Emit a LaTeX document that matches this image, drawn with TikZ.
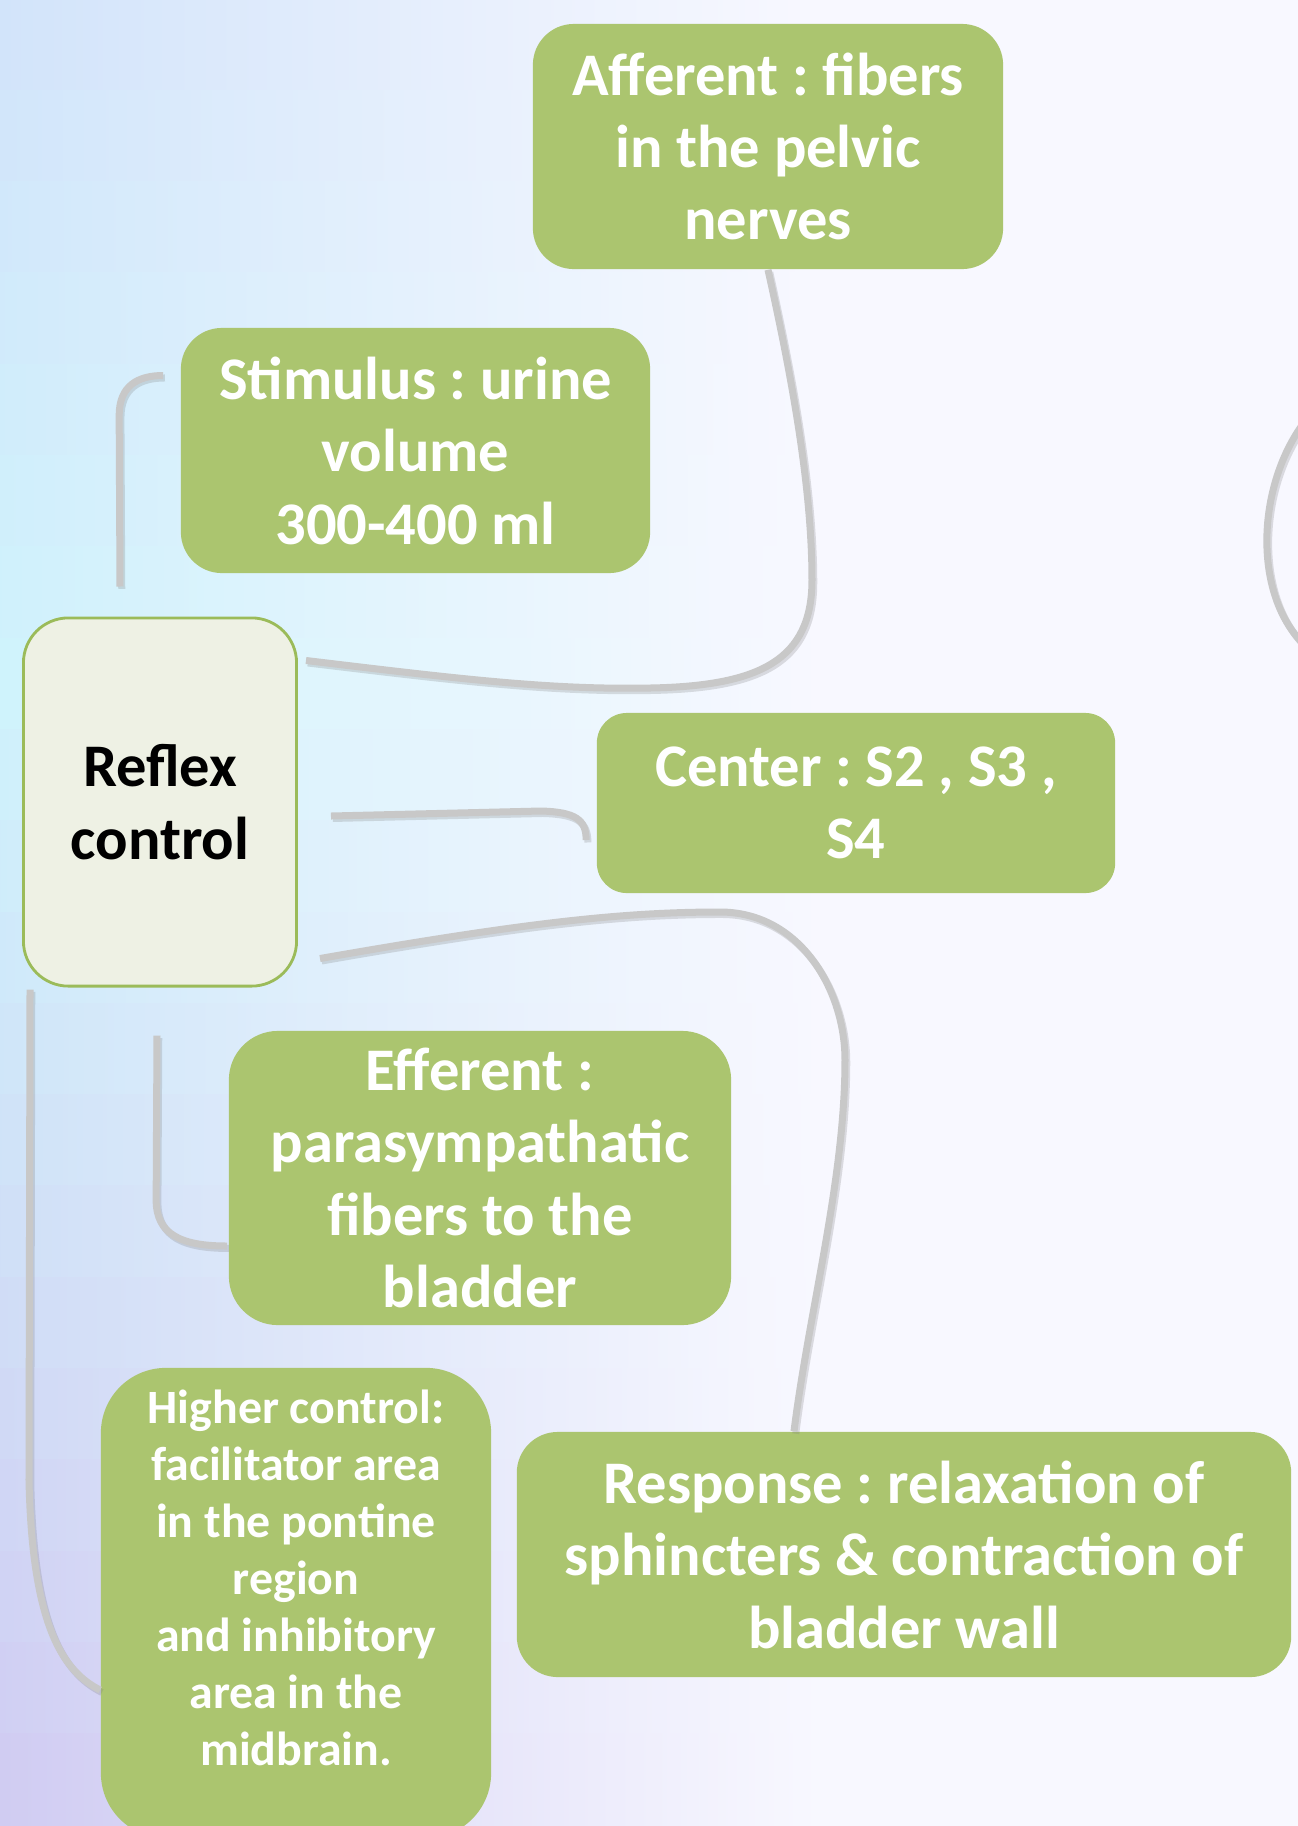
\documentclass[tikz,border=0pt]{standalone}
\usepackage{fontspec}
\setmainfont{Carlito}
\usetikzlibrary{calc, positioning}
\definecolor{leafgreen}{HTML}{ABC56F}
\definecolor{rootfill}{HTML}{EEF1E4}
\definecolor{rootline}{HTML}{9BBB59}
\definecolor{linkgray}{HTML}{C8C8C8}
\definecolor{bgbase}{HTML}{F8F8FF}
\definecolor{bgtop}{HTML}{D2E4FA}
\definecolor{bgmid}{HTML}{CFF3FC}
\definecolor{bgbot}{HTML}{D0CCF2}
\frenchspacing

\begin{document}
\begin{tikzpicture}[
    x=0.01cm, y=-0.01cm,
    bigtext/.style={font=\bfseries\fontsize{17.2}{20.6}\selectfont},
    smalltext/.style={font=\bfseries\fontsize{13.6}{16.2}\selectfont},
    leaf/.style={rectangle, fill=leafgreen, draw=none, text=white,
                 align=center, inner sep=0pt, bigtext},
    root/.style={rectangle, fill=rootfill, draw=rootline, line width=0.8pt,
                 text=black, align=center, inner sep=0pt, bigtext},
    link/.style={draw=linkgray, line width=0.07cm,
                 preaction={draw=black!50, opacity=0.25, line width=0.07cm,
                            transform canvas={xshift=0.5pt, yshift=-0.7pt}}},
]

\useasboundingbox (0,0) rectangle (1298,1826);
\clip (0,0) rectangle (1298,1826);

% ── background: strips fading from the left edge ──
\fill[bgbase] (0,0) rectangle (1298,1826);
\def\sh{91.3}
\foreach \i in {0,...,19} {
    \ifnum\i<8
        \pgfmathsetmacro{\p}{100*\i/7}
        \colorlet{stripcol}{bgmid!\p!bgtop}
    \else
        \pgfmathsetmacro{\p}{100*(\i-7)/12}
        \colorlet{stripcol}{bgbot!\p!bgmid}
    \fi
    \fill[left color=stripcol, right color=bgbase, shading angle=90]
        (0,{\i*\sh-1}) rectangle (820,{(\i+1)*\sh+1});
}

% ── boxes ──
\node[root, minimum width=2.73cm, minimum height=3.68cm, rounded corners=0.45cm]
    (reflex) at (160,802) {Reflex\\control};
\node[leaf, minimum width=4.70cm, minimum height=2.45cm, rounded corners=0.41cm]
    (afferent) at (768,146.5) {Afferent : fibers\\in the pelvic\\nerves};
\node[leaf, minimum width=4.69cm, minimum height=2.45cm, rounded corners=0.41cm]
    (stimulus) at (415.5,450.5) {Stimulus : urine\\volume\\300-400 ml};
\node[leaf, minimum width=5.18cm, minimum height=1.80cm, rounded corners=0.30cm]
    (center) at (856,803) {Center : S2 , S3 ,\\S4};
\node[leaf, minimum width=5.02cm, minimum height=2.94cm, rounded corners=0.49cm]
    (efferent) at (480,1178) {Efferent :\\parasympathatic\\fibers to the\\bladder};
\node[leaf, minimum width=3.90cm, minimum height=4.70cm, rounded corners=0.65cm]
    (higher) at (296,1603) {};
\node[smalltext, text=white, align=center, inner sep=0pt]
    (highertext) at (296,1578) {Higher control:\\facilitator area\\in the pontine\\region\\and inhibitory\\area in the\\midbrain.};
\node[leaf, minimum width=7.74cm, minimum height=2.45cm, rounded corners=0.41cm]
    (response) at (904,1554.5) {Response : relaxation of\\sphincters \& contraction of\\bladder wall};

% ── connectors ──
\draw[link] ($(reflex.north)+(-40,-30)$) -- ($(stimulus.west)+(-61,-35)$)
    .. controls +(0,-30) and +(-25,0) .. ($(stimulus.west)+(-17,-75)$);
\draw[link] ($(reflex.north east)+(8,44)$) .. controls +(150,18) and +(-100,2) .. (650,688)
    .. controls +(110,-2) and +(0,80) .. (812,580)
    .. controls +(0,-100) and +(20,90) .. (afferent.south);
\draw[link] ($(reflex.east)+(33,14)$) -- ($(center.west)+(-55,8)$)
    .. controls +(35,1) and +(0,-20) .. ($(center.west)+(-10,37)$);
\draw[link] ($(reflex.south east)+(22,-29)$) .. controls +(200,-35) and +(-100,0) .. (720,912)
    .. controls +(80,0) and +(0,-70) .. (845,1060)
    .. controls +(0,120) and +(15,-120) .. ($(response.north)+(-110,0)$);
\draw[link] ($(reflex.south)+(-3,48)$) -- ($(efferent.west)+(-72,22)$)
    .. controls +(0,35) and +(-45,0) .. ($(efferent.west)+(-1,68)$);
\draw[link] ($(reflex.south west)+(8,2)$) -- (29,1480)
    .. controls +(3,140) and +(-40,-20) .. ($(higher.west)+(0,87)$);

% branch running off the right edge
\coordinate (offtop) at (1310,415);
\coordinate (offbot) at (1310,650);
\draw[link] (offtop) .. controls (1255,480) and (1250,600) .. (offbot);

\end{tikzpicture}
\end{document}
